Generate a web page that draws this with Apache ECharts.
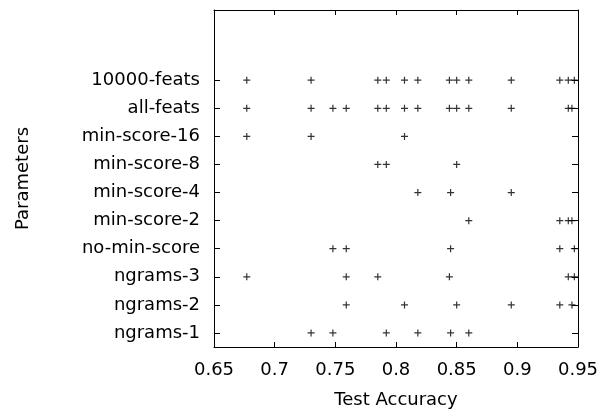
<!DOCTYPE html>
<html lang="en">
<head>
<meta charset="utf-8">
<title>Test Accuracy by Parameters</title>
<style>
  html, body { margin: 0; padding: 0; background: #fff; }
  #main { width: 613px; height: 414px; }
</style>
</head>
<body>
<div id="main"></div>
<script src="https://cdn.jsdelivr.net/npm/echarts@6/dist/echarts.min.js"></script>
<script>
// categories, bottom to top (two empty slots on top leave the gap above 10000-feats)
var categories = ['ngrams-1', 'ngrams-2', 'ngrams-3', 'no-min-score', 'min-score-2',
                  'min-score-4', 'min-score-8', 'min-score-16', 'all-feats', '10000-feats', '', ''];

var xTicks = [0.65, 0.7, 0.75, 0.8, 0.85, 0.9, 0.95];

// test accuracy per parameter setting
var ngrams1 = [0.73, 0.748, 0.792, 0.818, 0.845, 0.86];
var ngrams2 = [0.759, 0.807, 0.85, 0.895, 0.935, 0.945];
var ngrams3 = [0.677, 0.759, 0.785, 0.844, 0.942, 0.947];
var noMinScore = [0.748, 0.759, 0.845, 0.935, 0.947];
var minScore2 = [0.86, 0.935, 0.942, 0.945];
var minScore4 = [0.818, 0.845, 0.895];
var minScore8 = [0.785, 0.792, 0.85];
var minScore16 = [0.677, 0.73, 0.807];
var allFeats = [0.677, 0.73, 0.748, 0.759, 0.785, 0.792, 0.807, 0.818, 0.844, 0.85, 0.86, 0.895, 0.942, 0.945];
var feats10000 = [0.677, 0.73, 0.785, 0.792, 0.807, 0.818, 0.844, 0.85, 0.86, 0.895, 0.935, 0.942, 0.947];

var rows = [ngrams1, ngrams2, ngrams3, noMinScore, minScore2, minScore4, minScore8, minScore16, allFeats, feats10000];

var points = [];
rows.forEach(function (vals, i) {
    vals.forEach(function (v) {
        points.push([v, categories[i]]);
    });
});

var font = 'DejaVu Sans';
var ink = '#000';

function hasLabel(index, value) {
    return value !== '';
}

var chart = echarts.init(document.getElementById('main'));

var option = {
    animation: false,
    grid: { left: 214, right: 35, top: 10, bottom: 67 },
    xAxis: [{
        type: 'value',
        min: 0.65,
        max: 0.95,
        interval: 0.05,
        position: 'bottom',
        name: 'Test Accuracy',
        nameLocation: 'middle',
        nameGap: 44,
        nameTextStyle: { fontFamily: font, fontSize: 18, color: ink },
        axisLine: { show: true, onZero: false, lineStyle: { color: '#000', width: 1 } },
        axisTick: { show: true, inside: true, length: 5, lineStyle: { color: '#000' } },
        axisLabel: {
            margin: 14, fontFamily: font, fontSize: 18, color: ink,
            formatter: function (v) {
                var best = xTicks.reduce(function (a, b) { return Math.abs(b - v) < Math.abs(a - v) ? b : a; });
                return String(best);
            }
        },
        splitLine: { show: false }
    }, {
        type: 'value',
        min: 0.65,
        max: 0.95,
        interval: 0.05,
        position: 'top',
        axisLine: { show: true, onZero: false, lineStyle: { color: '#000', width: 1 } },
        axisTick: { show: true, inside: true, length: 5, lineStyle: { color: '#000' } },
        axisLabel: { show: false },
        splitLine: { show: false }
    }],
    yAxis: [{
        type: 'category',
        data: categories,
        position: 'left',
        name: 'Parameters',
        nameLocation: 'middle',
        nameRotate: 90,
        nameGap: 182,
        nameTextStyle: { fontFamily: font, fontSize: 18, color: ink },
        axisLine: { show: true, onZero: false, lineStyle: { color: '#000', width: 1 } },
        axisTick: { show: true, inside: true, length: 6, alignWithLabel: true, interval: hasLabel, lineStyle: { color: '#000' } },
        axisLabel: { interval: 0, margin: 14, fontFamily: font, fontSize: 18, color: ink },
        splitLine: { show: false }
    }, {
        type: 'category',
        data: categories,
        position: 'right',
        axisLine: { show: true, onZero: false, lineStyle: { color: '#000', width: 1 } },
        axisTick: { show: true, inside: true, length: 6, alignWithLabel: true, interval: hasLabel, lineStyle: { color: '#000' } },
        axisLabel: { show: false },
        splitLine: { show: false }
    }],
    series: [{
        type: 'scatter',
        xAxisIndex: 0,
        yAxisIndex: 0,
        data: points,
        symbol: 'path://M2.9,0H4.1V2.9H7V4.1H4.1V7H2.9V4.1H0V2.9H2.9Z',
        symbolSize: 7,
        itemStyle: { color: '#000' },
        silent: true
    }]
};

chart.setOption(option);
</script>
</body>
</html>
